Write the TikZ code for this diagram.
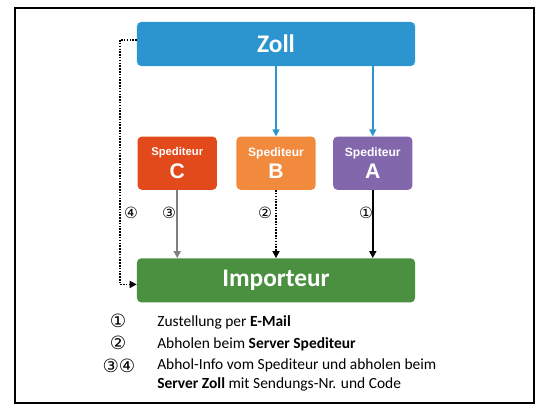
\documentclass[tikz,border=0pt]{standalone}
\usepackage{fontspec}
\setmainfont{Carlito}
\newfontfamily\arialfont{Liberation Sans}
\newfontfamily\circfont{DejaVu Sans}
\usepackage{xcolor}
\usetikzlibrary{positioning,calc,arrows.meta}
\definecolor{zollblue}{HTML}{2C95CF}
\definecolor{spedC}{HTML}{E2491B}
\definecolor{spedB}{HTML}{F28A3E}
\definecolor{spedA}{HTML}{8367AD}
\definecolor{impgreen}{HTML}{4A9040}

\begin{document}
\begin{tikzpicture}[x=0.025cm,y=-0.025cm,
  every node/.style={inner sep=0pt},
  box/.style={rounded corners=3pt,text=white,align=center},
  bigbox/.style={box,minimum width=6.95cm,minimum height=1.1cm,font=\fontsize{18}{21}\selectfont\bfseries},
  spbox/.style={box,minimum width=1.98cm,minimum height=1.33cm,font=\arialfont\bfseries\fontsize{8.6}{10}\selectfont},
  arrow/.style={-{Triangle[length=5pt,width=5pt]},line width=1.1pt},
  dots/.style={dash pattern=on 1.1pt off 0.9pt},
  num/.style={font=\circfont\fontsize{11}{11}\selectfont},
  legnum/.style={font=\circfont\fontsize{13}{13}\selectfont},
  legend/.style={font=\fontsize{11}{14}\selectfont,anchor=west,align=left}]
\useasboundingbox (0,0) rectangle (544,418);
\draw[line width=1pt] (15,8) rectangle (534,403);
\node[bigbox,fill=zollblue] (zoll) at (276,44) {Zoll};
\node[spbox,fill=spedB,below=1.75cm of zoll] (spb) {Spediteur\\[3pt]{\fontsize{15}{17}\selectfont B}};
\node[spbox,fill=spedC,left=0.475cm of spb] (spc) {\fontsize{8}{10}\selectfont Spediteur\\[3pt]{\fontsize{15}{17}\selectfont C}};
\node[spbox,fill=spedA,right=0.425cm of spb] (spa) {Spediteur\\[3pt]{\fontsize{15}{17}\selectfont A}};
\node[bigbox,fill=impgreen,below=1.7cm of spb] (imp) {Importeur};
\foreach \s in {spb,spa}
  \draw[arrow,zollblue] (zoll.south -| \s) -- (\s);
\draw[arrow,gray] (spc) -- (spc |- imp.north);
\draw[arrow,dots] (spb) -- (spb |- imp.north);
\draw[arrow] (spa) -- (spa |- imp.north);
\draw[arrow,dots] ([yshift=0.1cm]zoll.west) -- ++(-0.42cm,0) |- ([yshift=-0.1cm]imp.west);
\node[num] (n4) at (131,213) {④};
\node[num] (n3) at (169,213) {③};
\node[num] (n2) at (265,213) {②};
\node[num] (n1) at (366,213) {①};
\node[legnum] (l1) at (118,321) {①};
\node[legend] (t1) at (157,322) {Zustellung per \textbf{E-Mail}};
\node[legnum] (l2) at (118,343) {②};
\node[legend] (t2) at (157,344) {Abholen beim \textbf{Server Spediteur}};
\node[legnum] (l3) at (119,366) {③④};
\node[legend] (t3) at (157,375) {Abhol-Info vom Spediteur und abholen beim\\\textbf{Server Zoll} mit Sendungs-Nr. und Code};
\end{tikzpicture}
\end{document}
